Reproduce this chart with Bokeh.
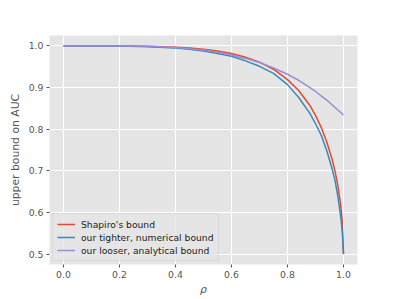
from bokeh.plotting import figure
from bokeh.models import Range1d, Legend, LegendItem, PrintfTickFormatter
from bokeh.embed import file_html
from bokeh.resources import INLINE

# Data
rho = [0.0, 0.1, 0.2, 0.3, 0.4, 0.45, 0.5, 0.55, 0.6, 0.65, 0.7, 0.75, 0.8, 0.84,
       0.88, 0.9, 0.92, 0.94, 0.96, 0.97, 0.98, 0.99, 0.995, 1.0]
shapiro = [1.000, 1.000, 1.000, 0.999, 0.997, 0.995, 0.992, 0.988, 0.982, 0.973,
           0.961, 0.944, 0.919, 0.893, 0.857, 0.833, 0.805, 0.770, 0.726, 0.698,
           0.664, 0.617, 0.583, 0.500]
tighter = [1.000, 1.000, 1.000, 0.998, 0.995, 0.992, 0.988, 0.982, 0.975, 0.964,
           0.951, 0.934, 0.907, 0.876, 0.838, 0.813, 0.786, 0.749, 0.703, 0.676,
           0.638, 0.590, 0.560, 0.500]
looser = [1.000, 1.000, 1.000, 0.999, 0.996, 0.993, 0.990, 0.985, 0.978, 0.970,
          0.960, 0.947, 0.932, 0.917, 0.900, 0.891, 0.880, 0.870, 0.858, 0.852,
          0.846, 0.840, 0.837, 0.834]
series_names = ["Shapiro's bound", "our tighter, numerical bound", "our looser, analytical bound"]
x_ticks = [0.0, 0.2, 0.4, 0.6, 0.8, 1.0]
y_ticks = [0.5, 0.6, 0.7, 0.8, 0.9, 1.0]

colors = ["#E24A33", "#348ABD", "#988ED5"]
FONT = "DejaVu Sans"

p = figure(frame_width=308, frame_height=229,
           min_border_left=49, min_border_right=26, min_border_top=35, min_border_bottom=24,
           x_range=Range1d(-0.05, 1.05), y_range=Range1d(0.475, 1.025),
           output_backend="svg", toolbar_location=None,
           background_fill_color="#E5E5E5", border_fill_color="white")
p.outline_line_color = None

p.grid.grid_line_color = "white"
p.grid.grid_line_width = 1
p.xaxis.ticker = x_ticks
p.yaxis.ticker = y_ticks

for ax in (p.xaxis, p.yaxis):
    ax.formatter = PrintfTickFormatter(format="%.1f")
    ax.axis_line_color = None
    ax.major_tick_line_color = "#555555"
    ax.major_tick_in = 0
    ax.major_tick_out = 3
    ax.minor_tick_line_color = None
    ax.major_label_text_font = FONT
    ax.major_label_text_font_size = "9.3px"
    ax.major_label_text_color = "#555555"
    ax.axis_label_text_font = FONT
    ax.axis_label_text_font_size = "10.8px"
    ax.axis_label_text_color = "#555555"
    ax.axis_label_text_font_style = "normal"
    ax.major_label_standoff = 3

p.xaxis.axis_label = "ρ"
p.xaxis.axis_label_text_font_style = "italic"
p.xaxis.axis_label_standoff = 2
p.yaxis.axis_label = "upper bound on AUC"
p.yaxis.axis_label_standoff = 4

r1 = p.line(rho, shapiro, line_color=colors[0], line_width=1.5)
r2 = p.line(rho, tighter, line_color=colors[1], line_width=1.5)
r3 = p.line(rho, looser, line_color=colors[2], line_width=1.5)

legend = Legend(items=[LegendItem(label=series_names[0], renderers=[r1]),
                       LegendItem(label=series_names[1], renderers=[r2]),
                       LegendItem(label=series_names[2], renderers=[r3])],
                location="bottom_left")
legend.margin = 3
legend.padding = 4
legend.spacing = 1
legend.glyph_width = 18
legend.glyph_height = 12
legend.label_height = 12
legend.label_standoff = 6
legend.label_text_font = FONT
legend.label_text_font_size = "9.2px"
legend.label_text_color = "#222222"
legend.background_fill_color = "#E5E5E5"
legend.background_fill_alpha = 0.8
legend.border_line_color = "#CCCCCC"
legend.border_line_width = 1
p.add_layout(legend)

open("out.html", "w").write(file_html(p, INLINE))
